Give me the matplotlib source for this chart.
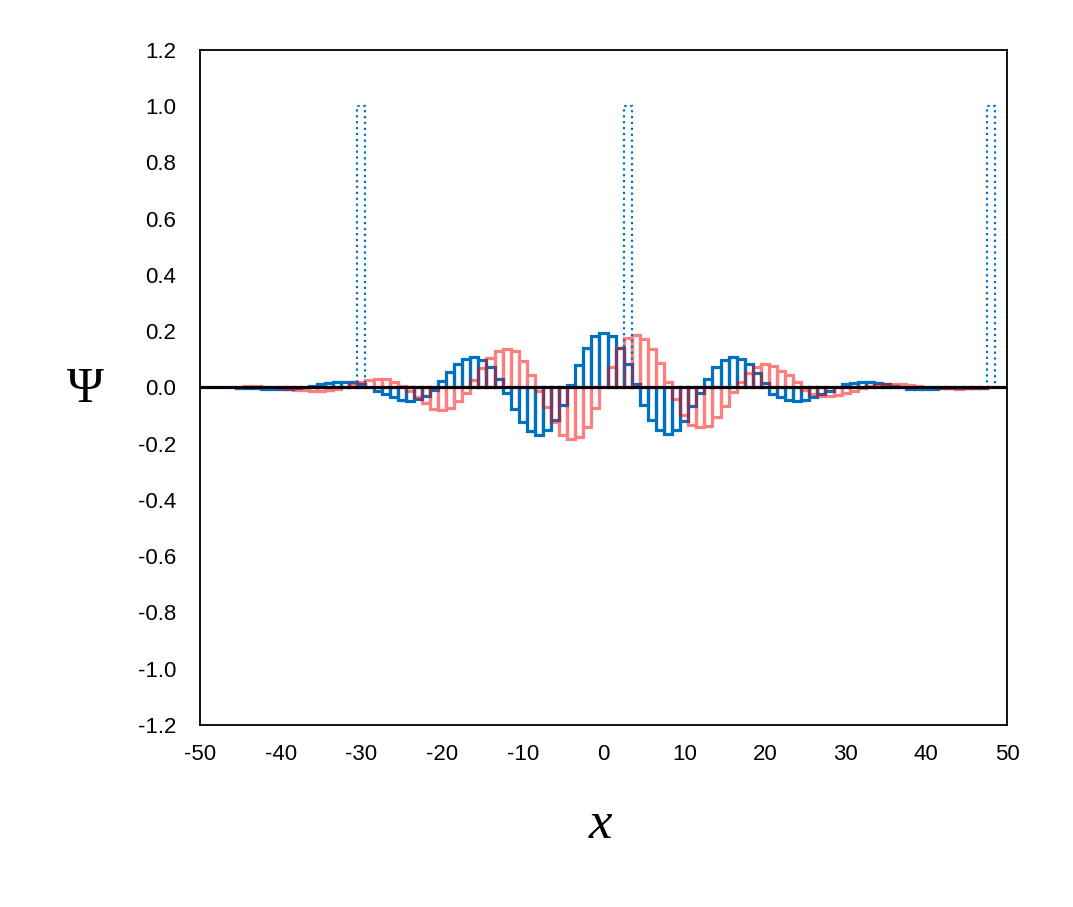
import numpy as np
import matplotlib
matplotlib.use("Agg")
import matplotlib.pyplot as plt
from matplotlib.path import Path
from matplotlib.patches import PathPatch

plt.rcParams['font.family'] = ['Liberation Sans', 'DejaVu Sans']

# grid positions of the bars
x = np.arange(-50, 51)

# blue series (real part), x = -50 ... 50
psi_re = [
    0, 0, 0, 0, 0,
    -0.001, -0.002, -0.003, -0.004, -0.005, -0.005, -0.005, -0.003, 0.0, 0.004,
    0.011, 0.016, 0.020, 0.021, 0.018, 0.013, 0.003, -0.012, -0.024, -0.035,
    -0.044, -0.047, -0.041, -0.030, -0.009, 0.022, 0.054, 0.085, 0.101, 0.107,
    0.098, 0.074, 0.030, -0.018, -0.075, -0.121, -0.156, -0.168, -0.152, -0.116,
    -0.062, 0.010, 0.080, 0.139, 0.183,
    0.195,
    0.184, 0.140, 0.082, 0.012, -0.062, -0.116, -0.151, -0.165, -0.152, -0.120,
    -0.065, -0.020, 0.030, 0.073, 0.099, 0.107, 0.100, 0.083, 0.052, 0.015,
    -0.023, -0.034, -0.044, -0.047, -0.044, -0.035, -0.023, -0.011, 0.003, 0.011,
    0.017, 0.021, 0.020, 0.017, 0.012, 0.005, 0.0, -0.004, -0.005, -0.005,
    -0.004, -0.003, -0.002, -0.002, -0.002, -0.001, -0.001, 0, 0, 0,
]

# pink series (imaginary part), x = -50 ... 50
psi_im = [
    0, 0, 0,
    0.001, 0.002, 0.003, 0.004, 0.004, 0.003, 0.001, -0.002, -0.005, -0.008,
    -0.010, -0.011, -0.011, -0.009, -0.005, 0.002, 0.012, 0.021, 0.027, 0.031,
    0.029, 0.021, 0.006, -0.014, -0.034, -0.056, -0.075, -0.081, -0.074, -0.048,
    -0.018, 0.026, 0.069, 0.104, 0.130, 0.137, 0.128, 0.093, 0.044, -0.012,
    -0.070, -0.122, -0.168, -0.184, -0.175, -0.140, -0.074,
    0.0,
    0.073, 0.140, 0.176, 0.187, 0.172, 0.137, 0.087, 0.020, -0.041, -0.098,
    -0.134, -0.140, -0.138, -0.104, -0.066, -0.016, 0.020, 0.053, 0.074, 0.083,
    0.076, 0.060, 0.043, 0.018, -0.008, -0.022, -0.029, -0.031, -0.027, -0.020,
    -0.011, -0.002, 0.005, 0.009, 0.011, 0.012, 0.011, 0.008, 0.005, 0.002,
    0.0, -0.002, -0.003, -0.004, -0.003, -0.002, -0.001, 0, 0, 0,
]

# dotted bars
barrier_x = [-30, 3, 48]
barrier_h = [1.0, 1.0, 1.0]

# axis ticks
xticks = list(range(-50, 51, 10))
yticks = [-1.2, -1.0, -0.8, -0.6, -0.4, -0.2, 0.0, 0.2, 0.4, 0.6, 0.8, 1.0, 1.2]

blue = '#0070C0'

fig = plt.figure(figsize=(10.73, 9.07), dpi=100)
ax = fig.add_axes([0.1864, 0.2007, 0.7521, 0.7442])

ax.bar(x, psi_re, width=1, fill=False, edgecolor=blue, linewidth=2.3, zorder=2)

# pink bars as one outline so the transparency does not stack on shared edges
pink_bars = ax.bar(x, psi_im, width=1, fill=False, edgecolor='none', zorder=3)
outline = Path.make_compound_path(
    *[p.get_path().transformed(p.get_patch_transform()) for p in pink_bars])
ax.add_patch(PathPatch(outline, fill=False, edgecolor=(1, 0, 0, 0.5),
                       linewidth=2.3, zorder=3))

ax.bar(barrier_x, barrier_h, width=1, fill=False, edgecolor=blue,
       linewidth=1.6, linestyle=':', zorder=4)

ax.axhline(0, color='black', linewidth=2.0, zorder=5)

ax.set_xlim(-50, 50)
ax.set_ylim(-1.2, 1.2)
ax.set_xticks(xticks)
ax.set_yticks(yticks)
ax.set_xticklabels([str(v) for v in xticks])
ax.set_yticklabels([f'{v:.1f}' for v in yticks])
ax.tick_params(axis='both', length=0, labelsize=16)
ax.tick_params(axis='y', pad=17)
ax.tick_params(axis='x', pad=14)
for s in ax.spines.values():
    s.set_linewidth(1.3)

ax.text(-0.1425, 0.496, 'Ψ', transform=ax.transAxes, ha='center', va='center',
        fontsize=36, family='Liberation Serif')
ax.text(0.496, -0.148, 'x', transform=ax.transAxes, ha='center', va='center',
        fontsize=38, family='Liberation Serif', style='italic')

fig.savefig('out.png', dpi=100)
